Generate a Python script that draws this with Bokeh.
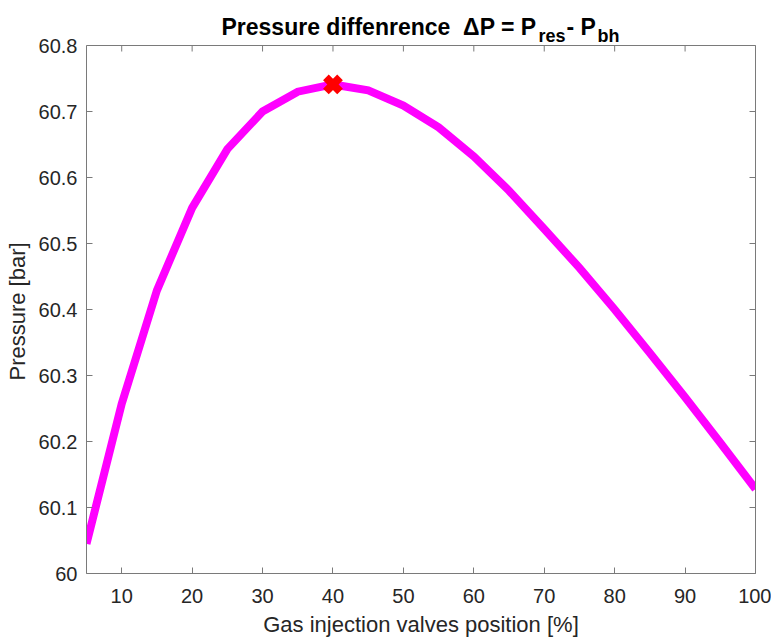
import math
from bokeh.plotting import figure
from bokeh.models import Range1d, LinearAxis, FixedTicker, Label, Span
from bokeh.embed import file_html
from bokeh.resources import INLINE

# ---- data ----
valve_pos = [5, 10, 15, 20, 25, 30, 35, 40, 45, 50, 55, 60, 65, 70, 75, 80, 85, 90, 95, 100]
pressure = [60.045, 60.257, 60.429, 60.554, 60.643, 60.700, 60.730, 60.741, 60.732, 60.709,
            60.676, 60.632, 60.580, 60.522, 60.463, 60.400, 60.334, 60.267, 60.198, 60.128]
x_ticks = [10, 20, 30, 40, 50, 60, 70, 80, 90, 100]
x_tick_labels = ["10", "20", "30", "40", "50", "60", "70", "80", "90", "100"]
y_ticks = [60, 60.1, 60.2, 60.3, 60.4, 60.5, 60.6, 60.7, 60.8]
y_tick_labels = ["60", "60.1", "60.2", "60.3", "60.4", "60.5", "60.6", "60.7", "60.8"]
title_parts = ["Pressure diffenrence \u00a0\u0394P = P", "res", "- P", "bh"]
x_label = "Gas injection valves position [%]"
y_label = "Pressure [bar]"

X0, X1 = 5, 100
Y0, Y1 = 60, 60.8
W, H = 771, 642
FL, FT, FW, FH = 86, 45, 669, 528     # axes box in canvas pixels
FONT = "Liberation Sans"
AX = "#7a7a7a"
TXT = "#262626"
TICK = 6

# frame reaches the canvas top so the title can live inside it; axes are bounded to the box
y_top = Y1 + FT / FH * (Y1 - Y0)
p = figure(frame_width=FW, frame_height=FT + FH, output_backend="svg", toolbar_location=None,
           x_range=Range1d(X0, X1), y_range=Range1d(Y0, y_top),
           min_border_left=FL, min_border_top=0, min_border_right=W - FL - FW,
           min_border_bottom=H - FT - FH, background_fill_color="white",
           border_fill_color="white")
p.title.visible = False
p.outline_line_color = None
p.xgrid.visible = False
p.ygrid.visible = False

def style_axis(ax, ticks, labels, show_labels):
    ax.ticker = FixedTicker(ticks=ticks)
    ax.axis_line_color = AX
    ax.major_tick_line_color = AX
    ax.major_tick_in = TICK
    ax.major_tick_out = 0
    ax.minor_tick_line_color = None
    ax.major_label_text_font = FONT
    if show_labels:
        ax.major_label_overrides = {tk: lb for tk, lb in zip(ticks, labels)}
        ax.major_label_text_font_size = "20px"
        ax.major_label_text_color = TXT
    else:
        ax.major_label_overrides = {tk: "" for tk in ticks}
        ax.major_label_text_font_size = "1px"
        ax.major_label_text_color = None
        ax.major_label_standoff = 0
    ax.axis_label_text_font = FONT
    ax.axis_label_text_font_size = "22px"
    ax.axis_label_text_font_style = "normal"
    ax.axis_label_text_color = TXT

style_axis(p.xaxis[0], x_ticks, x_tick_labels, True)
style_axis(p.yaxis[0], y_ticks, y_tick_labels, True)
p.yaxis[0].bounds = (Y0, Y1)
p.xaxis[0].axis_label = x_label
# trailing no-break spaces keep the label centred on the box rather than the taller frame
p.yaxis[0].axis_label = y_label + "\u00a0" * 8
p.xaxis[0].major_label_standoff = 15
p.yaxis[0].major_label_standoff = 9
p.xaxis[0].axis_label_standoff = 6
p.yaxis[0].axis_label_standoff = 6

right = LinearAxis(bounds=(Y0, Y1))
style_axis(right, y_ticks, y_tick_labels, False)
p.add_layout(right, "right")

# top edge of the box with inward ticks
p.add_layout(Span(location=Y1, dimension="width", line_color=AX, line_width=1))
p.ray(x=x_ticks, y=[Y1] * len(x_ticks), length=TICK, length_units="screen",
      angle=-math.pi / 2, line_color=AX, line_width=1)

p.line(valve_pos, pressure, line_color="#ff00ff", line_width=8, line_join="miter")

imax = max(range(len(pressure)), key=lambda i: pressure[i])
p.scatter([valve_pos[imax]], [pressure[imax]], marker="x", size=20, line_width=8,
          line_color="#ff0000")

# title pieces (canvas pixel positions converted to data coordinates)
def cx(px):
    return X0 + (px - FL) / FW * (X1 - X0)

def cy(py):
    return Y0 + (FT + FH - py) / FH * (Y1 - Y0)

title_x = [221, 538, 566, 597]
title_y = [26, 35, 26, 35]
title_fs = ["23px", "18px", "23px", "18px"]
for txt, px, py, fs in zip(title_parts, title_x, title_y, title_fs):
    p.add_layout(Label(x=cx(px), y=cy(py), text=txt, text_font=FONT, text_font_size=fs,
                       text_font_style="bold", text_color="black",
                       text_baseline="alphabetic", text_align="left"))

open("out.html", "w").write(file_html(p, INLINE))
